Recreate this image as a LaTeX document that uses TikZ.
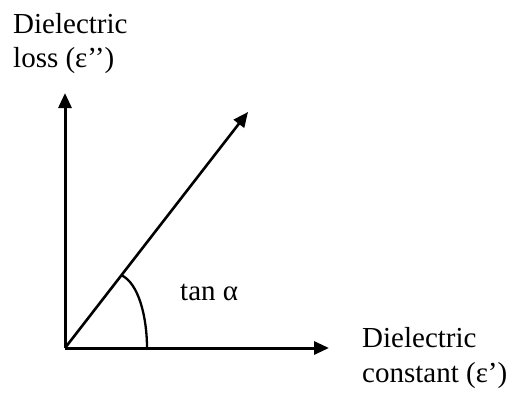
\documentclass[tikz,border=0pt]{standalone}
\usepackage{fontspec}
\setmainfont{Liberation Serif}
\usetikzlibrary{arrows.meta}
\begin{document}
\begin{tikzpicture}[x=1pt,y=1pt,line join=round,>={Triangle[length=15pt,width=13pt]},
	axis/.style={line width=3pt,->},
	lbl/.style={inner sep=0pt,anchor=base west,font=\fontsize{29}{34}\selectfont}]
	\useasboundingbox (0,0) rectangle (516,392);
	\path
	(65,44) coordinate (O)
	(65,299) coordinate (Y)
	(329,44) coordinate (X)
	(248,280) coordinate (P)
	(121,117) coordinate (A1)
	(147,44) coordinate (A2)
	;
	\draw[axis] (O)--(Y);
	\draw[axis] (O)--(X);
	\draw[axis,line width=2.6pt] (O)--(P);
	\draw[line width=2.3pt] (A1) .. controls (139,109) and (147,74) .. (A2);
	% labels
	\node[lbl] (ylab1) at (13,359) {Dielectric};
	\node[lbl] (ylab2) at (13,325) {loss (ε’’)};
	\node[lbl] (xlab1) at (362,45) {Dielectric};
	\node[lbl] (xlab2) at (362,10) {constant (ε’)};
	\node[lbl] (ang) at (180,92) {tan α};
\end{tikzpicture}
\end{document}
